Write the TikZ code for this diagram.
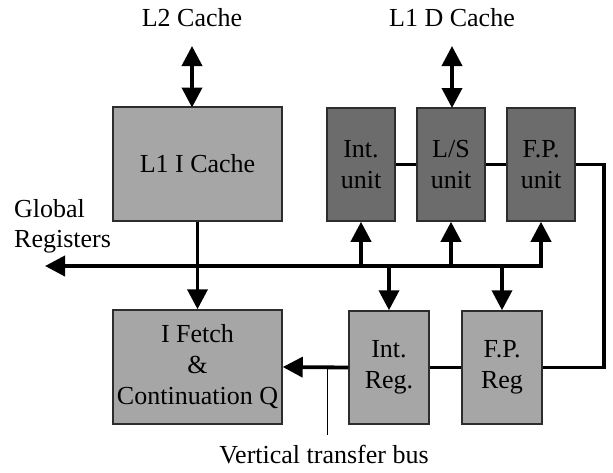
\documentclass[tikz,border=0pt]{standalone}
\usepackage{fontspec}
\setmainfont{Liberation Serif}
\usetikzlibrary{arrows.meta,calc}
\definecolor{boxlight}{RGB}{166,166,166}
\definecolor{boxdark}{RGB}{108,108,108}
\definecolor{boxline}{RGB}{45,45,45}
\begin{document}
\begin{tikzpicture}[x=1pt,y=1pt,
  lbl/.style={font=\fontsize{26}{30}\selectfont, inner sep=0pt},
  blk/.style={draw=boxline, line width=1.5pt, align=center, inner sep=0pt,
    font=\fontsize{26}{31}\selectfont},
  lightblk/.style={blk, fill=boxlight},
  darkblk/.style={blk, fill=boxdark},
  wire/.style={line width=3.8pt, line join=miter},
  tip/.style={wire, -{Triangle[length=20pt,width=20pt]}},
  dtip/.style={wire, {Triangle[length=20pt,width=20pt]}-{Triangle[length=20pt,width=20pt]}},
  thin/.style={line width=1pt}]
\useasboundingbox (0,0) rectangle (613,-472);

% blocks
\node[lightblk, minimum width=169pt, minimum height=114pt] (l1i) at (197.5,-164) {L1 I Cache};
\node[darkblk, minimum width=68pt, minimum height=113pt] (intu) at (361,-164.5) {Int.\\unit};
\node[darkblk, minimum width=68pt, minimum height=113pt] (lsu) at (451,-164.5) {L/S\\unit};
\node[darkblk, minimum width=68pt, minimum height=113pt] (fpu) at (541,-164.5) {F.P.\\unit};
\node[lightblk, minimum width=169pt, minimum height=114pt] (ifetch) at (197.5,-367) {I Fetch\\\&\\Continuation Q};
\node[lightblk, minimum width=80pt, minimum height=113pt] (intreg) at (389,-367.5) {Int.\\Reg.};
\node[lightblk, minimum width=80pt, minimum height=113pt] (fpreg) at (502,-367.5) {F.P.\\Reg};

% labels
\node[lbl] (l2) at (192,-18) {L2 Cache};
\node[lbl] (l1d) at (452,-18) {L1 D Cache};
\node[lbl, anchor=west, align=left] (glob) at (14,-226) {Global\\Registers};
\node[lbl] (vtb) at (324,-455) {Vertical transfer bus};

% coordinates
\coordinate (l2a) at (192,-46);
\coordinate (l2b) at (192,-107.5);
\coordinate (l1da) at (452,-46);
\coordinate (l1db) at (452,-108);
\coordinate (busR) at (541,-266);
\coordinate (busL) at (45,-266);
\coordinate (fpcorner1) at (604,-164.5);
\coordinate (fpcorner2) at (604,-367.5);
\coordinate (lead) at (327,-367.5);
\coordinate (leadend) at (327,-435);

% cache arrows
\draw[dtip] (l2a) -- (l2b);
\draw[dtip] (l1da) -- (l1db);

% global bus
\draw[dtip] (busL) -- (busR) -- (fpu.south);
\draw[tip] (intu.south |- busR) -- (intu.south);
\draw[tip] (lsu.south |- busR) -- (lsu.south);
\draw[tip] (intreg.north |- busR) -- (intreg.north);
\draw[tip] (fpreg.north |- busR) -- (fpreg.north);
\draw[tip] (l1i.south) -- (ifetch.north);

% unit chain
\draw[wire] (intu.east) -- (lsu.west);
\draw[wire] (lsu.east) -- (fpu.west);
\draw[wire] (fpu.east) -- (fpcorner1) -- (fpcorner2) -- (fpreg.east);
\draw[wire] (fpreg.west) -- (intreg.east);
\draw[tip] (intreg.west) -- (ifetch.east);
\draw[thin] (lead) -- (leadend);
\end{tikzpicture}
\end{document}
